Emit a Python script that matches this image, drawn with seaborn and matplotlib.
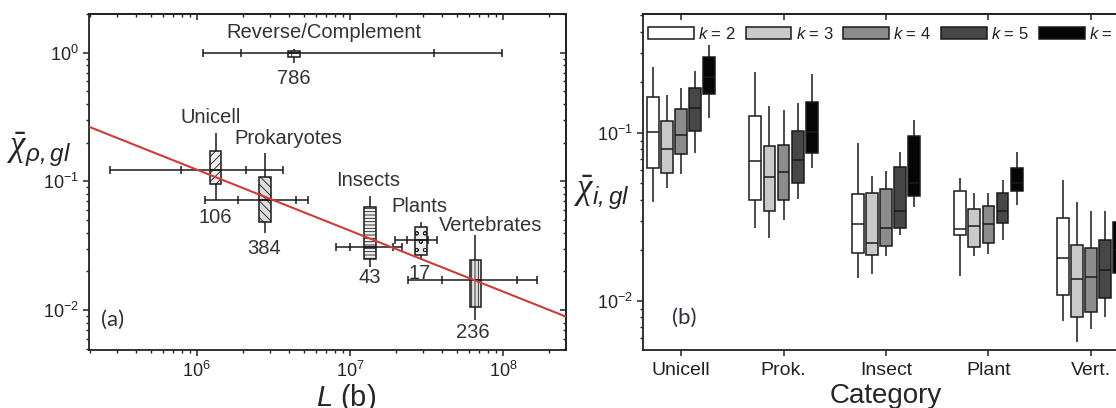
import numpy as np
import pandas as pd
import matplotlib
matplotlib.use("Agg")
import matplotlib.pyplot as plt
from matplotlib.ticker import NullFormatter, FixedLocator
import seaborn as sns

# ---------------- panel (a): chi against genome length ----------------
groups = ["Reverse/Complement", "Unicell", "Prokaryotes", "Insects", "Plants", "Vertebrates"]
counts = [786, 106, 384, 43, 17, 236]

# genome length L (bases): whisker low, lower tick, median, upper tick, whisker high
len_low = [1.10e6, 2.72e5, 1.14e6, 8.1e6, 1.98e7, 2.41e7]
len_q1 = [1.95e6, 7.87e5, 1.85e6, 1.0e7, 2.36e7, 3.97e7]
len_med = [4.33e6, 1.33e6, 2.79e6, 1.35e7, 2.92e7, 6.6e7]
len_q3 = [3.54e7, 2.11e6, 4.44e6, 1.92e7, 3.26e7, 1.24e8]
len_high = [9.9e7, 3.68e6, 5.35e6, 2.2e7, 3.69e7, 1.68e8]

# mean chi: whisker low, q1, median, q3, whisker high
chi_low = [0.83, 0.0717, 0.0395, 0.0217, 0.0245, 0.00837]
chi_q1 = [0.92, 0.0955, 0.0486, 0.0251, 0.0268, 0.0106]
chi_med = [0.99, 0.123, 0.0717, 0.0311, 0.035, 0.0171]
chi_q3 = [1.04, 0.173, 0.1076, 0.0636, 0.0445, 0.0245]
chi_high = [1.07, 0.236, 0.167, 0.077, 0.0486, 0.0383]

# power-law fit across the plotted length range
fit_len = [1.98e5, 2.58e8]
fit_chi = [0.266, 0.0089]

# ---------------- panel (b): chi per category and word length k ----------------
categories = ["Unicell", "Prok.", "Insect", "Plant", "Vert."]
k_values = [2, 3, 4, 5, 6]
# per category: whisker low, q1, median, q3, whisker high
chi_k2 = [[0.039, 0.0616, 0.101, 0.163, 0.248],
          [0.0273, 0.0399, 0.068, 0.126, 0.229],
          [0.0137, 0.0192, 0.0287, 0.0434, 0.0875],
          [0.014, 0.0247, 0.0267, 0.0448, 0.0542],
          [0.00764, 0.0109, 0.0179, 0.031, 0.0525]]
chi_k3 = [[0.0469, 0.0575, 0.080, 0.118, 0.168],
          [0.0236, 0.0345, 0.0545, 0.084, 0.145],
          [0.0145, 0.0188, 0.0222, 0.0437, 0.0557],
          [0.0184, 0.0209, 0.0279, 0.0352, 0.0441],
          [0.00573, 0.008, 0.0135, 0.0215, 0.039]]
chi_k4 = [[0.057, 0.075, 0.0973, 0.138, 0.185],
          [0.0303, 0.0399, 0.0583, 0.0849, 0.137],
          [0.0185, 0.0213, 0.0273, 0.0465, 0.0594],
          [0.019, 0.0222, 0.0287, 0.0365, 0.0441],
          [0.00678, 0.00863, 0.0138, 0.0206, 0.0343]]
chi_k5 = [[0.0763, 0.103, 0.140, 0.185, 0.234],
          [0.0405, 0.0506, 0.069, 0.1028, 0.151],
          [0.0247, 0.0271, 0.0345, 0.0625, 0.0767],
          [0.0229, 0.029, 0.0345, 0.0437, 0.0525],
          [0.00807, 0.0104, 0.0153, 0.0231, 0.0343]]
chi_k6 = [[0.122, 0.170, 0.216, 0.282, 0.334],
          [0.0616, 0.0757, 0.101, 0.152, 0.224],
          [0.0362, 0.0422, 0.0506, 0.096, 0.1194],
          [0.0373, 0.0452, 0.0506, 0.0622, 0.0767],
          [0.011, 0.0147, 0.020, 0.0296, 0.045]]

# ---------------- styling ----------------
sns.set_theme(style="ticks")
plt.rcParams.update({
    "font.family": ["Liberation Sans", "DejaVu Sans"],
    "mathtext.fontset": "custom",
    "mathtext.it": "Liberation Serif:italic",
    "mathtext.rm": "Liberation Sans",
    "mathtext.sf": "Liberation Sans:italic",
    "mathtext.default": "regular",
    "axes.linewidth": 1.3,
    "axes.edgecolor": "#222222",
    "xtick.color": "#222222",
    "ytick.color": "#222222",
    "xtick.major.size": 4.5,
    "ytick.major.size": 4.5,
    "xtick.minor.size": 2.5,
    "ytick.minor.size": 2.5,
    "xtick.major.width": 1.1,
    "ytick.major.width": 1.1,
    "xtick.minor.width": 1.0,
    "ytick.minor.width": 1.0,
    "hatch.color": "#6e6e6e",
    "hatch.linewidth": 0.6,
    "text.color": "#222222",
})

fig = plt.figure(figsize=(11.16, 4.08), dpi=100)
axL = fig.add_axes([89 / 1116, 58 / 408, 477 / 1116, 336 / 408])
axR = fig.add_axes([643 / 1116, 58 / 408, 486 / 1116, 336 / 408])

# ---- panel (a) ----
box_fills = ["#f4f4f4", "#efefef", "#dcdcdc", "#f0f0f0", "#eeeeee", "#e2e2e2"]
box_hatches = ["+", "////", "\\\\\\\\", "-----", "oo", "|||||"]
for i in range(len(groups)):
    n_before = len(axL.patches)
    sns.boxplot(
        x=np.full(5, len_med[i]),
        y=[chi_low[i], chi_q1[i], chi_med[i], chi_q3[i], chi_high[i]],
        orient="x", native_scale=True, log_scale=(True, True),
        width=0.075, whis=np.inf, color=box_fills[i], saturation=1,
        linecolor="#1a1a1a", linewidth=1.1, showcaps=False, ax=axL,
    )
    for p in axL.patches[n_before:]:
        p.set_hatch(box_hatches[i])
        p.set_zorder(2)
    # spread in genome length, drawn as a horizontal bar with ticks
    axL.errorbar(
        len_med[i], chi_med[i],
        xerr=[[len_med[i] - len_low[i]], [len_high[i] - len_med[i]]],
        fmt="none", ecolor="#1a1a1a", elinewidth=1.1, capsize=3.2, capthick=1.1,
        zorder=3,
    )
    axL.plot([len_q1[i], len_q3[i]], [chi_med[i], chi_med[i]], ls="none",
             marker="|", ms=6, mew=1.1, color="#1a1a1a", zorder=3)

sns.lineplot(x=fit_len, y=fit_chi, color="#d23a3a", lw=1.5, ax=axL, zorder=6)

name_dx = [30, -5, 23, -2, -2, 15]
name_dy = [16, 16, 14, 16, 15, 10]
count_dx = [0, 0, -1, 0, -1, -3]
count_dy = [15, 17, 15, 11, 13, 12]
for i in range(len(groups)):
    axL.annotate(groups[i], (len_med[i], chi_high[i]), xytext=(name_dx[i], name_dy[i]),
                 textcoords="offset pixels", ha="center", va="center", fontsize=14.5,
                 color="#333333", zorder=7)
    axL.annotate(str(counts[i]), (len_med[i], chi_low[i]), xytext=(count_dx[i], -count_dy[i]),
                 textcoords="offset pixels", ha="center", va="center", fontsize=14.5,
                 color="#333333", zorder=7)

axL.set_xlim(fit_len[0], fit_len[1])
axL.set_ylim(0.0049, 2.0)
axL.set_xlabel(r"$\mathsf{L}$ (b)", fontsize=21, labelpad=0, va="center")
axL.xaxis.set_label_coords(0.54, -0.142)
axL.set_ylabel(r"$\bar{\mathit{\chi}}_{\mathsf{\rho,gl}}$", fontsize=25, rotation=0,
               labelpad=0, va="center", ha="center")
axL.yaxis.set_label_coords(-0.105, 0.595)
axL.tick_params(which="both", direction="out", top=False, right=False, labelsize=13,
                pad=3)
axL.text(0.05, 0.09, "(a)", transform=axL.transAxes, fontsize=16, family="Lato",
         color="#2e2e3c", ha="center", va="center")

secx = axL.secondary_xaxis("top")
secx.tick_params(which="both", direction="in", labeltop=False)
secx.xaxis.set_major_formatter(NullFormatter())
secx.xaxis.set_minor_formatter(NullFormatter())
secy = axL.secondary_yaxis("right")
secy.tick_params(which="both", direction="in", labelright=False)
secy.yaxis.set_major_formatter(NullFormatter())
secy.yaxis.set_minor_formatter(NullFormatter())

# ---- panel (b) ----
rows = []
k_stats = [chi_k2, chi_k3, chi_k4, chi_k5, chi_k6]
k_labels = [rf"$\mathsf{{k}}$ = {k}" for k in k_values]
for lab, stats in zip(k_labels, k_stats):
    for cat, s in zip(categories, stats):
        for v in s:
            rows.append((cat, lab, v))
df = pd.DataFrame(rows, columns=["category", "k", "chi"])

k_palette = ["#ffffff", "#c9c9c9", "#8c8c8c", "#474747", "#060606"]
sns.boxplot(
    data=df, x="category", y="chi", hue="k", order=categories, hue_order=k_labels,
    palette=k_palette, saturation=1, linecolor="#1a1a1a", linewidth=1.1,
    width=0.685, gap=0.15, whis=np.inf, showcaps=False, log_scale=True, ax=axR,
)
axR.set_xlim(-0.371, 4.371)
axR.set_ylim(0.0051, 0.51)
axR.set_xlabel("Category", fontsize=20, labelpad=0, va="center")
axR.xaxis.set_label_coords(0.5, -0.136)
axR.set_ylabel(r"$\bar{\mathit{\chi}}_{\mathsf{i,gl}}$", fontsize=25, rotation=0,
               labelpad=0, va="center", ha="center")
axR.yaxis.set_label_coords(-0.084, 0.467)
axR.tick_params(which="both", direction="out", top=False, right=False, labelsize=13, pad=3)
axR.tick_params(axis="x", labelsize=14, pad=4)
axR.text(0.085, 0.095, "(b)", transform=axR.transAxes, fontsize=16, family="Lato",
         color="#2e2e3c", ha="center", va="center")

secxr = axR.secondary_xaxis("top")
secxr.xaxis.set_major_locator(FixedLocator(range(len(categories))))
secxr.tick_params(which="both", direction="in", labeltop=False)
secxr.xaxis.set_major_formatter(NullFormatter())
secxr.xaxis.set_minor_formatter(NullFormatter())

sns.move_legend(
    axR, "upper left", bbox_to_anchor=(0.003, 0.975), ncol=5, frameon=False, title=None,
    handlelength=2.75, handleheight=0.8, handletextpad=0.25, columnspacing=0.6,
    borderpad=0.2, borderaxespad=0, fontsize=12,
)

fig.savefig("out.png", dpi=100)
